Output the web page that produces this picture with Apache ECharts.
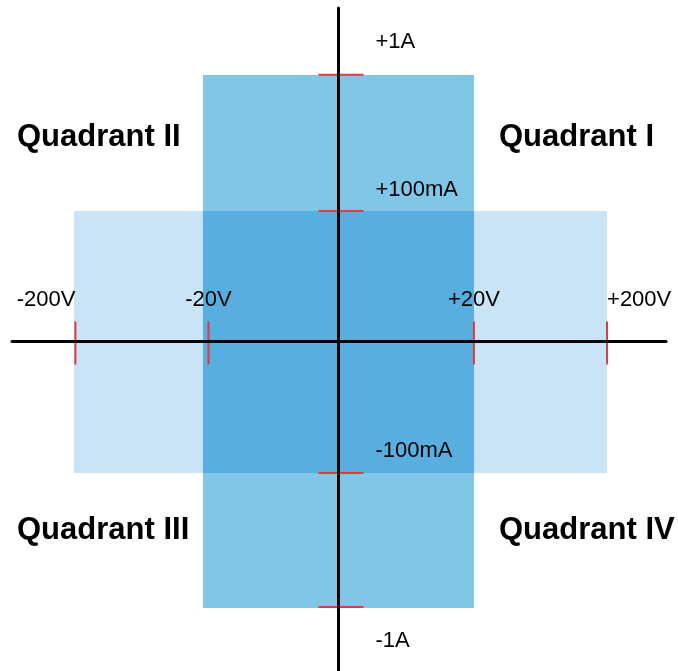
<!DOCTYPE html>
<html><head><meta charset="utf-8">
<script src="https://cdn.jsdelivr.net/npm/echarts@6/dist/echarts.min.js"></script>
<style>html,body{margin:0;padding:0;background:#fff}#c{width:678px;height:671px}</style>
</head><body><div id="c"></div>
<script>
// Schematic axis units: 1 ≈ ±20V / ±100mA, 2 ≈ ±200V / ±1A
const voltageLabels = ['-200V', '-20V', '+20V', '+200V'];
const voltageTickPos = [-1.963, -0.970, 1.011, 2.004];
const currentLabels = ['+1A', '+100mA', '-100mA', '-1A'];
const currentTickPos = [2.0, 0.978, -0.986, -1.99];
const currentLabelPos = [2.245, 1.136, -0.82, -2.245];
const quadrantNames = ['Quadrant I', 'Quadrant II', 'Quadrant III', 'Quadrant IV'];
// operating regions: [xMin, xMax, yMin, yMax]
const regionWide = [-1.974, 2.004, -0.986, 0.978];   // ±200V, ±100mA
const regionTall = [-1.011, 1.011, -1.998, 1.998];   // ±20V, ±1A

const overlap = [
  Math.max(regionWide[0], regionTall[0]), Math.min(regionWide[1], regionTall[1]),
  Math.max(regionWide[2], regionTall[2]), Math.min(regionWide[3], regionTall[3])
];
const regionColors = ['#c8e4f6', '#80c6e7', '#57aedf'];
const voltAlign = ['right', 'center', 'center', 'left'];
const FONT = '"Liberation Sans", Arial, sans-serif';

const chart = echarts.init(document.getElementById('c'), null, {renderer: 'canvas'});
chart.setOption({
  animation: false,
  backgroundColor: '#fff',
  grid: {left: 12, width: 654, top: 8, height: 663},
  xAxis: {type: 'value', min: -2.436, max: 2.444, z: 10,
    axisLine: {show: true, onZero: true, lineStyle: {color: '#000', width: 3}},
    axisTick: {show: false}, axisLabel: {show: false}, splitLine: {show: false}},
  yAxis: {type: 'value', min: -2.47, max: 2.5, z: 10,
    axisLine: {show: true, onZero: true, lineStyle: {color: '#000', width: 3}},
    axisTick: {show: false}, axisLabel: {show: false}, splitLine: {show: false}},
  graphic: [
    {type: 'text', x: 499, y: 137, style: {text: quadrantNames[0], font: 'bold 31px ' + FONT, fill: '#000', verticalAlign: 'middle'}},
    {type: 'text', x: 17, y: 137, style: {text: quadrantNames[1], font: 'bold 31px ' + FONT, fill: '#000', verticalAlign: 'middle'}},
    {type: 'text', x: 17, y: 530, style: {text: quadrantNames[2], font: 'bold 31px ' + FONT, fill: '#000', verticalAlign: 'middle'}},
    {type: 'text', x: 499, y: 530, style: {text: quadrantNames[3], font: 'bold 31px ' + FONT, fill: '#000', verticalAlign: 'middle'}}
  ],
  series: [
    {
      type: 'custom', z: 2, silent: true,
      data: [regionWide, regionTall, overlap],
      renderItem: function (params, api) {
        const p0 = api.coord([api.value(0), api.value(3)]);
        const p1 = api.coord([api.value(1), api.value(2)]);
        return {type: 'rect', shape: {x: p0[0], y: p0[1], width: p1[0] - p0[0], height: p1[1] - p0[1]},
          style: {fill: regionColors[params.dataIndex]}};
      }
    },
    {
      type: 'custom', z: 3, silent: true,
      data: voltageTickPos.map((v, i) => [v, 0, i]),
      renderItem: function (params, api) {
        const p = api.coord([api.value(0), 0]);
        const i = params.dataIndex;
        return {type: 'group', children: [
          {type: 'line', shape: {x1: p[0], y1: p[1] - 20, x2: p[0], y2: p[1] + 23}, style: {stroke: '#e03a3e', lineWidth: 2}},
          {type: 'text', x: p[0], y: p[1] - 42, style: {text: voltageLabels[i], font: '22px ' + FONT, fill: '#000', align: voltAlign[i], verticalAlign: 'middle'}}
        ]};
      }
    },
    {
      type: 'custom', z: 3, silent: true,
      data: currentTickPos.map((v, i) => [0, v, i]),
      renderItem: function (params, api) {
        const p = api.coord([0, api.value(1)]);
        const i = params.dataIndex;
        const lp = api.coord([0, currentLabelPos[i]]);
        return {type: 'group', children: [
          {type: 'line', shape: {x1: p[0] - 20, y1: p[1], x2: p[0] + 25, y2: p[1]}, style: {stroke: '#e03a3e', lineWidth: 2}},
          {type: 'text', x: p[0] + 37, y: lp[1], style: {text: currentLabels[i], font: '22px ' + FONT, fill: '#000', align: 'left', verticalAlign: 'middle'}}
        ]};
      }
    }
  ]
});
</script>
</body></html>
